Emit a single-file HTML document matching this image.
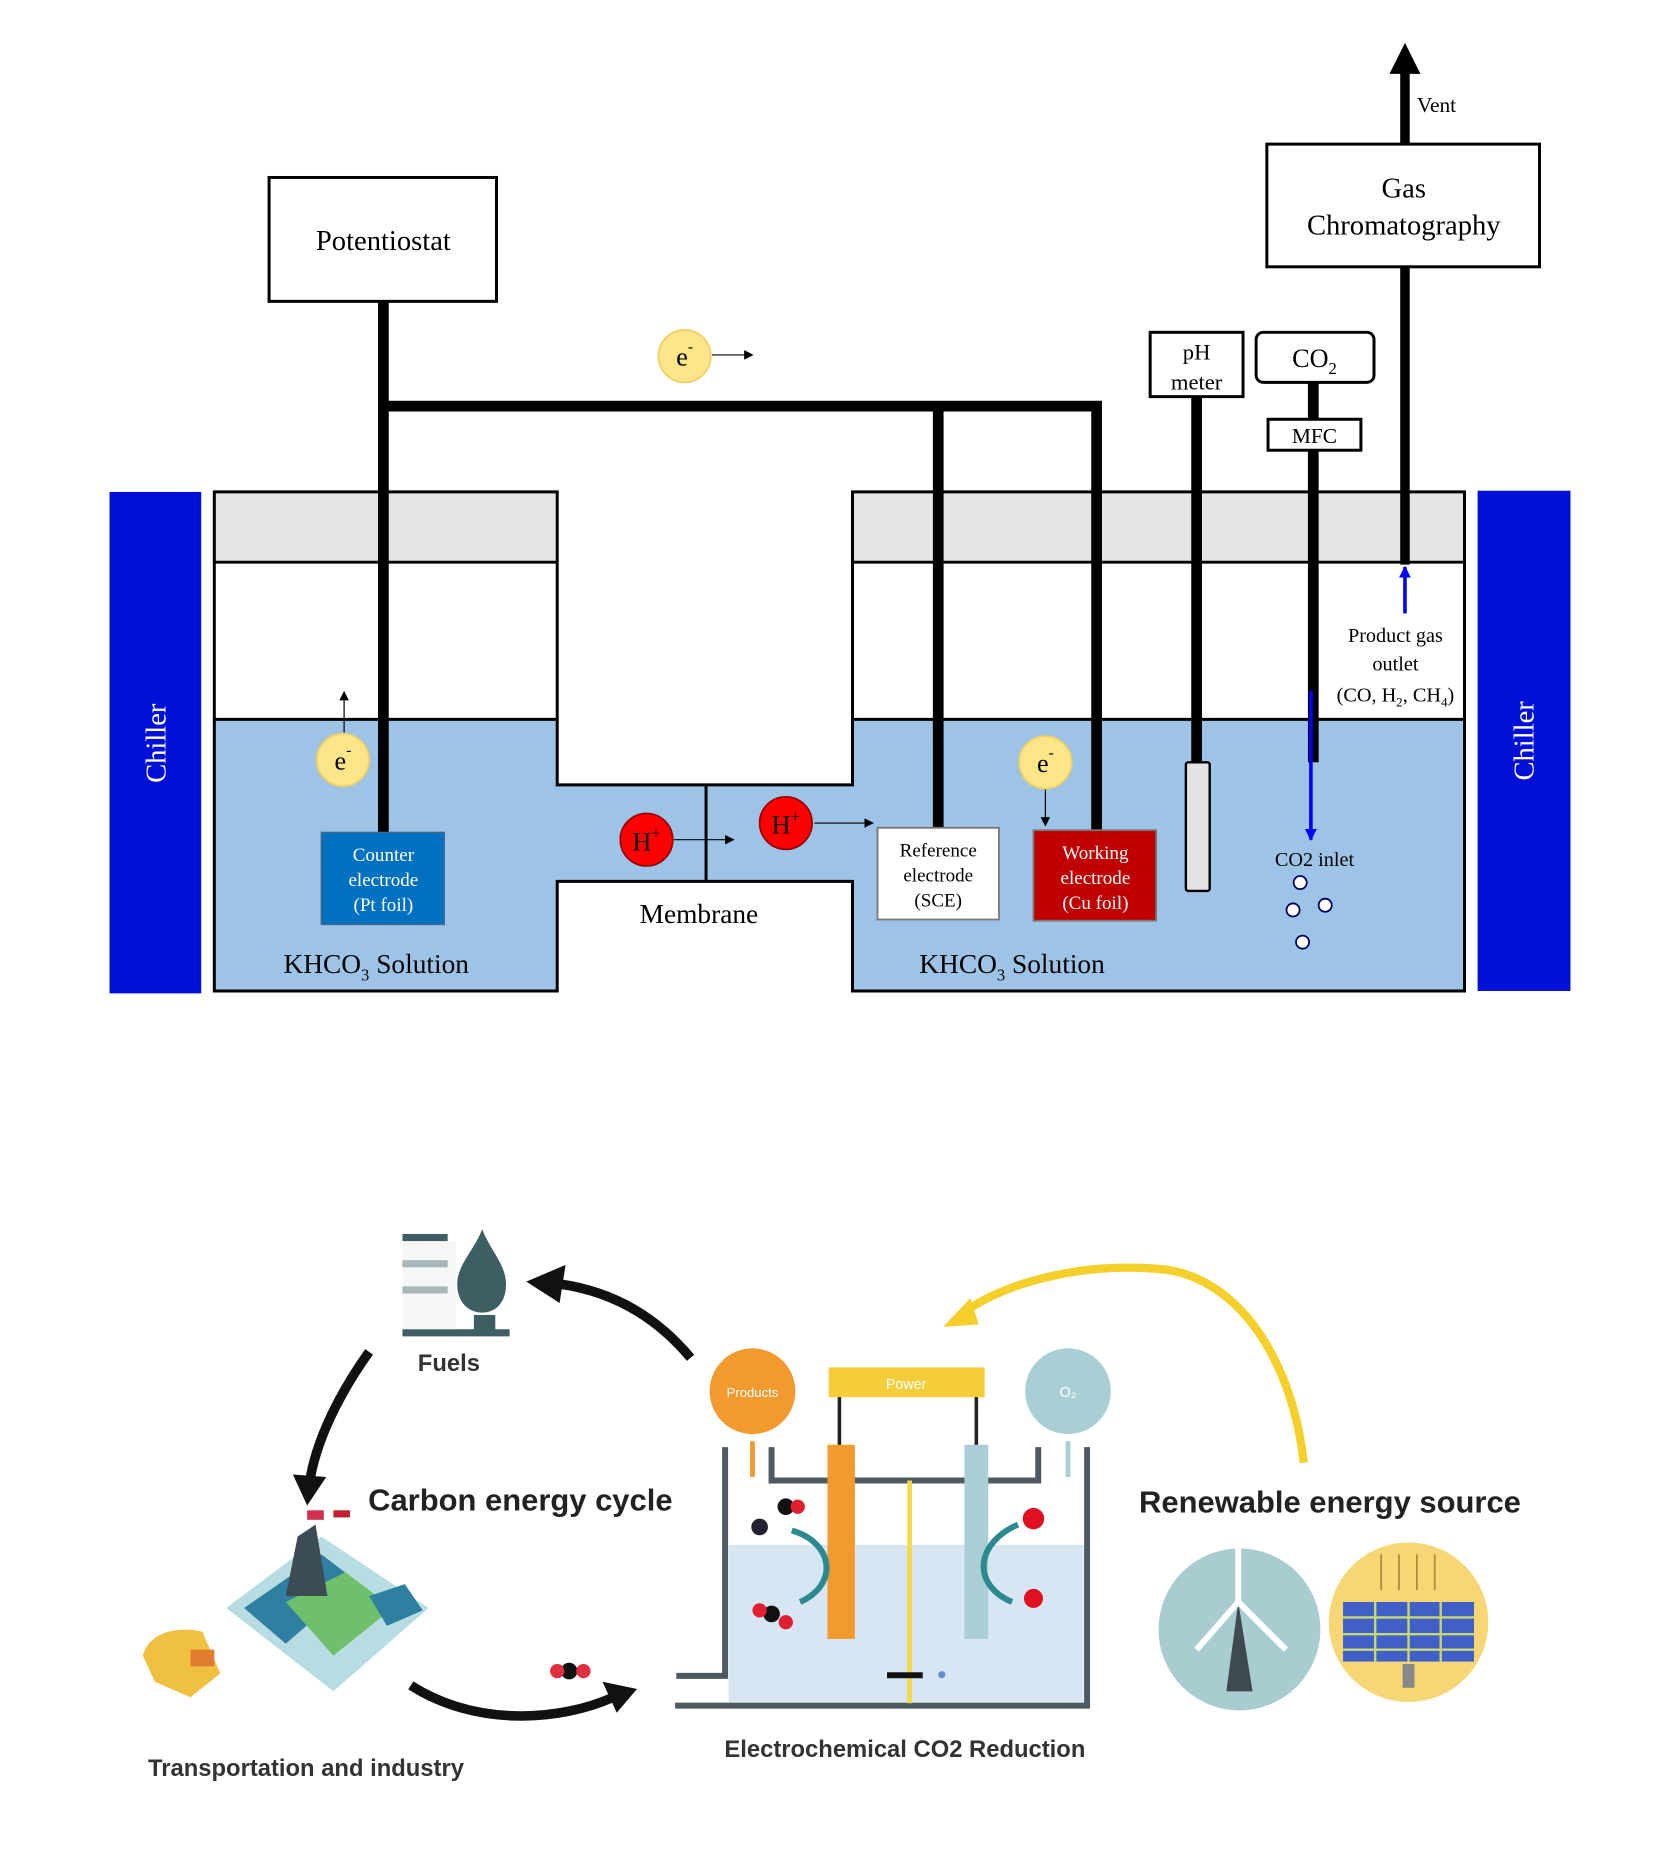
<!DOCTYPE html>
<html><head><meta charset="utf-8"><style>
html,body{margin:0;padding:0;background:#fff;}
svg{display:block;}
text{font-family:"Liberation Serif",serif;}
.s{font-family:"Liberation Sans",sans-serif;}
</style></head><body>
<svg width="1655" height="1870" viewBox="0 0 1390 1570" preserveAspectRatio="none" xmlns="http://www.w3.org/2000/svg">
<defs>
<marker id="ab" markerWidth="8" markerHeight="8" refX="7" refY="4" orient="auto" markerUnits="userSpaceOnUse"><path d="M0,0L8,4L0,8z" fill="#000"/></marker>
<marker id="abl" markerWidth="10" markerHeight="10" refX="9" refY="5" orient="auto" markerUnits="userSpaceOnUse"><path d="M0,0L10,5L0,10z" fill="#0000ff"/></marker>
</defs>
<rect width="1390" height="1570" fill="#fff"/>
<!-- chillers -->
<rect x="92" y="413" width="77" height="421" fill="#0010d8"/>
<rect x="1241" y="412" width="78" height="420" fill="#0010d8"/>
<text x="131" y="624" fill="#fff" font-size="24" text-anchor="middle" transform="rotate(-90 131 624)" dy="8">Chiller</text>
<text x="1280" y="622" fill="#fff" font-size="24" text-anchor="middle" transform="rotate(-90 1280 622)" dy="8">Chiller</text>
<!-- cells -->
<rect x="180" y="413" width="288" height="59" fill="#e6e5e6"/>
<rect x="716" y="413" width="514" height="59" fill="#e6e5e6"/>
<rect x="180" y="604" width="288" height="228" fill="#9dc3e6"/>
<rect x="716" y="604" width="514" height="228" fill="#9dc3e6"/>
<rect x="466" y="659" width="252" height="81" fill="#9dc3e6"/>
<g fill="none" stroke="#000" stroke-width="2.5">
<path d="M180,413H468V659H716V413H1230V832H716V740H468V832H180Z"/>
<line x1="180" y1="472" x2="468" y2="472"/><line x1="716" y1="472" x2="1230" y2="472"/>
<line x1="180" y1="604" x2="468" y2="604"/><line x1="716" y1="604" x2="1230" y2="604"/>
<line x1="593" y1="659" x2="593" y2="740"/>
</g>
<!-- top boxes -->
<rect x="226" y="149" width="191" height="104" fill="#fff" stroke="#000" stroke-width="2.5"/>
<text x="322" y="210" font-size="24" text-anchor="middle">Potentiostat</text>
<line x1="1180" y1="121" x2="1180" y2="58" stroke="#000" stroke-width="8"/>
<path d="M1167,62L1180,36L1193,62Z" fill="#000"/>
<text x="1190" y="94" font-size="18">Vent</text>
<line x1="1180" y1="224" x2="1180" y2="474" stroke="#000" stroke-width="8"/>
<rect x="1064" y="121" width="229" height="103" fill="#fff" stroke="#000" stroke-width="2.5"/>
<text x="1179" y="166" font-size="24" text-anchor="middle">Gas</text>
<text x="1179" y="197" font-size="24" text-anchor="middle">Chromatography</text>
<line x1="1180" y1="515" x2="1180" y2="476" stroke="#0000ff" stroke-width="3" marker-end="url(#abl)"/>
<!-- wires -->
<g stroke="#000" stroke-width="9" fill="none">
<line x1="322" y1="253" x2="322" y2="699"/>
<path d="M322,341H921V697"/>
<line x1="788" y1="341" x2="788" y2="695"/>
<line x1="1005" y1="333" x2="1005" y2="640"/>
<line x1="1103" y1="321" x2="1103" y2="352"/>
<line x1="1103" y1="378" x2="1103" y2="640"/>
</g>
<line x1="1101" y1="580" x2="1101" y2="705" stroke="#0000ff" stroke-width="3" marker-end="url(#abl)"/>
<rect x="966" y="279" width="78" height="54" fill="#fff" stroke="#000" stroke-width="2.5"/>
<text x="1005" y="302" font-size="19" text-anchor="middle">pH</text>
<text x="1005" y="327" font-size="19" text-anchor="middle">meter</text>
<rect x="1055" y="279" width="99" height="42" rx="6" fill="#fff" stroke="#000" stroke-width="2.5"/>
<text x="1104" y="308" font-size="22" text-anchor="middle">CO<tspan font-size="14" dy="6">2</tspan></text>
<rect x="1065" y="352" width="78" height="26" fill="#fff" stroke="#000" stroke-width="2.5"/>
<text x="1104" y="372" font-size="18" text-anchor="middle">MFC</text>
<rect x="996" y="640" width="20" height="108" rx="2" fill="#e3e3e3" stroke="#000" stroke-width="2"/>
<!-- electrodes -->
<rect x="270" y="699" width="103" height="77" fill="#0070c0" stroke="#3b6a96" stroke-width="1.5"/>
<text x="322" y="723" font-size="16" fill="#fff" text-anchor="middle">Counter</text>
<text x="322" y="744" font-size="16" fill="#fff" text-anchor="middle">electrode</text>
<text x="322" y="765" font-size="16" fill="#fff" text-anchor="middle">(Pt foil)</text>
<rect x="737" y="695" width="102" height="77" fill="#fff" stroke="#777" stroke-width="1.5"/>
<text x="788" y="719" font-size="16" text-anchor="middle">Reference</text>
<text x="788" y="740" font-size="16" text-anchor="middle">electrode</text>
<text x="788" y="761" font-size="16" text-anchor="middle">(SCE)</text>
<rect x="868" y="697" width="103" height="76" fill="#c00000" stroke="#777" stroke-width="1.5"/>
<text x="920" y="721" font-size="16" fill="#fff" text-anchor="middle">Working</text>
<text x="920" y="742" font-size="16" fill="#fff" text-anchor="middle">electrode</text>
<text x="920" y="763" font-size="16" fill="#fff" text-anchor="middle">(Cu foil)</text>
<!-- particles -->
<g stroke="#f0d060" stroke-width="1.5" fill="#ffe58a">
<circle cx="575" cy="299" r="22"/><circle cx="288" cy="638" r="22"/><circle cx="878" cy="640" r="22"/>
</g>
<text x="575" y="307" font-size="22" text-anchor="middle">e<tspan font-size="13" dy="-12">-</tspan></text>
<text x="288" y="646" font-size="22" text-anchor="middle">e<tspan font-size="13" dy="-12">-</tspan></text>
<text x="878" y="648" font-size="22" text-anchor="middle">e<tspan font-size="13" dy="-12">-</tspan></text>
<g stroke="#000" stroke-width="1" marker-end="url(#ab)">
<line x1="598" y1="298" x2="632" y2="298"/>
<line x1="289" y1="615" x2="289" y2="581"/>
<line x1="878" y1="663" x2="878" y2="693"/>
<line x1="566" y1="705" x2="616" y2="705"/>
<line x1="684" y1="691" x2="733" y2="691"/>
</g>
<circle cx="543" cy="705" r="22" fill="#f00" stroke="#900" stroke-width="1.5"/>
<circle cx="660" cy="691" r="22" fill="#f00" stroke="#900" stroke-width="1.5"/>
<text x="543" y="714" font-size="22" text-anchor="middle">H<tspan font-size="14" dy="-10">+</tspan></text>
<text x="660" y="700" font-size="22" text-anchor="middle">H<tspan font-size="14" dy="-10">+</tspan></text>
<text x="316" y="817" font-size="23" text-anchor="middle">KHCO<tspan font-size="14" dy="6">3</tspan><tspan dy="-6"> Solution</tspan></text>
<text x="850" y="817" font-size="23" text-anchor="middle">KHCO<tspan font-size="14" dy="6">3</tspan><tspan dy="-6"> Solution</tspan></text>
<text x="587" y="775" font-size="23" text-anchor="middle">Membrane</text>
<text x="1104" y="727" font-size="17" text-anchor="middle">CO2 inlet</text>
<g fill="#fff" stroke="#000060" stroke-width="1.5">
<circle cx="1092" cy="741" r="5.5"/><circle cx="1086" cy="764" r="5.5"/><circle cx="1113" cy="760" r="5.5"/><circle cx="1094" cy="791" r="5.5"/>
</g>
<text x="1172" y="539" font-size="17" text-anchor="middle">Product gas</text>
<text x="1172" y="563" font-size="17" text-anchor="middle">outlet</text>
<text x="1172" y="589" font-size="17" text-anchor="middle">(CO, H<tspan font-size="11" dy="4">2</tspan><tspan dy="-4">, CH</tspan><tspan font-size="11" dy="4">4</tspan><tspan dy="-4">)</tspan></text>

<!-- ===== lower illustration ===== -->
<g fill="#3d5f63">
<rect x="338" y="1036" width="38" height="6"/><rect x="338" y="1058" width="38" height="6"/><rect x="338" y="1080" width="38" height="6"/>
<path d="M405,1032C398,1050 384,1062 384,1078C384,1094 394,1102 405,1102C416,1102 425,1094 425,1078C425,1062 412,1050 405,1032Z"/>
<rect x="338" y="1116" width="90" height="6"/><rect x="398" y="1104" width="18" height="14"/>
</g>
<rect x="338" y="1042" width="45" height="74" fill="#eef1f2" opacity="0.6"/>
<text x="377" y="1151" class="s" font-size="20" font-weight="bold" fill="#333" text-anchor="middle">Fuels</text>
<g fill="none" stroke="#111" stroke-width="8">
<path d="M580,1140C555,1110 520,1085 470,1078"/>
<path d="M310,1135C285,1170 265,1210 260,1245"/>
<path d="M345,1415C400,1450 470,1445 515,1425"/>
</g>
<path d="M442,1076L475,1062L470,1094Z" fill="#111"/>
<path d="M246,1238L274,1240L258,1264Z" fill="#111"/>
<path d="M535,1418L506,1412L518,1438Z" fill="#111"/>
<path d="M1095,1228C1085,1140 1040,1075 980,1066C905,1058 835,1080 806,1105" fill="none" stroke="#f5cf2a" stroke-width="7"/>
<path d="M792,1114L815,1090L822,1112Z" fill="#f5cf2a"/>
<text x="437" y="1268" class="s" font-size="26" font-weight="bold" fill="#222" text-anchor="middle">Carbon energy cycle</text>
<text x="1117" y="1270" class="s" font-size="26" font-weight="bold" fill="#222" text-anchor="middle">Renewable energy source</text>
<path d="M190,1350L270,1290L360,1350L280,1420Z" fill="#b7dde2"/>
<path d="M205,1350L270,1305L300,1328L240,1380Z" fill="#2f7fa0"/>
<path d="M240,1345L290,1320L330,1350L280,1390Z" fill="#6fc06a"/>
<path d="M240,1340L250,1290L265,1280L275,1340Z" fill="#3b4c55"/>
<path d="M310,1340L340,1330L355,1352L325,1365Z" fill="#2f7fa0"/>
<path d="M120,1390C125,1370 150,1365 170,1370L185,1405L160,1425L130,1412Z" fill="#f0c040"/>
<rect x="160" y="1385" width="20" height="14" fill="#e07b30"/>
<rect x="258" y="1268" width="14" height="8" fill="#d03050"/><rect x="280" y="1268" width="14" height="6" fill="#c02030"/>
<text x="257" y="1491" class="s" font-size="20" font-weight="bold" fill="#333" text-anchor="middle">Transportation and industry</text>
<circle cx="478" cy="1403" r="7" fill="#111"/><circle cx="468" cy="1403" r="6" fill="#e03040"/><circle cx="490" cy="1403" r="6" fill="#e03040"/>
<rect x="612" y="1297" width="298" height="132" fill="#d6e7f3"/>
<g fill="none" stroke="#4d5b60" stroke-width="5">
<path d="M609,1215V1407H568"/>
<path d="M567,1432H913V1215"/>
<path d="M648,1215V1243H872V1215"/>
</g>
<line x1="764" y1="1243" x2="764" y2="1430" stroke="#f4d84a" stroke-width="4"/>
<line x1="705" y1="1172" x2="705" y2="1215" stroke="#222" stroke-width="3"/>
<line x1="820" y1="1172" x2="820" y2="1215" stroke="#222" stroke-width="3"/>
<rect x="695" y="1213" width="23" height="163" fill="#f39a2e"/>
<rect x="810" y="1213" width="20" height="163" fill="#a9cfd4"/>
<rect x="696" y="1148" width="131" height="25" fill="#f5cc3a"/>
<text x="761" y="1166" class="s" font-size="12" fill="#fff" text-anchor="middle">Power</text>
<circle cx="632" cy="1168" r="36" fill="#f39a2e"/>
<text x="632" y="1173" class="s" font-size="11" fill="#fff" text-anchor="middle">Products</text>
<circle cx="897" cy="1168" r="36" fill="#a9cfd4"/>
<text x="897" y="1173" class="s" font-size="12" fill="#fff" text-anchor="middle">O₂</text>
<line x1="632" y1="1210" x2="632" y2="1240" stroke="#f39a2e" stroke-width="4"/>
<line x1="897" y1="1210" x2="897" y2="1240" stroke="#a9cfd4" stroke-width="4"/>
<g fill="none" stroke="#2b8a8f" stroke-width="5">
<path d="M665,1285C700,1295 705,1330 672,1345"/>
<path d="M855,1280C820,1295 815,1330 850,1345"/>
</g>
<circle cx="660" cy="1265" r="7" fill="#111"/><circle cx="670" cy="1265" r="6" fill="#e02030"/>
<circle cx="638" cy="1282" r="7" fill="#223"/>
<circle cx="648" cy="1355" r="7" fill="#111"/><circle cx="638" cy="1352" r="6" fill="#e02030"/><circle cx="660" cy="1362" r="6" fill="#e02030"/>
<circle cx="868" cy="1275" r="9" fill="#e01020"/><circle cx="868" cy="1342" r="8" fill="#e01020"/>
<rect x="745" y="1404" width="30" height="5" fill="#111"/><circle cx="791" cy="1406" r="3" fill="#6a8ad8"/>
<text x="760" y="1475" class="s" font-size="20" font-weight="bold" fill="#333" text-anchor="middle">Electrochemical CO2 Reduction</text>
<circle cx="1041" cy="1368" r="68" fill="#a8ccd0"/>
<path d="M1030,1420L1040,1345L1052,1420Z" fill="#3e4a50"/>
<path d="M1040,1345L1040,1300M1040,1345L1005,1385M1040,1345L1080,1385" stroke="#fff" stroke-width="5"/>
<circle cx="1183" cy="1362" r="67" fill="#f6d675"/>
<g fill="#4060c8"><rect x="1128" y="1345" width="110" height="50"/></g>
<g stroke="#c8d870" stroke-width="2"><line x1="1128" y1="1358" x2="1238" y2="1358"/><line x1="1128" y1="1372" x2="1238" y2="1372"/><line x1="1128" y1="1385" x2="1238" y2="1385"/><line x1="1155" y1="1345" x2="1155" y2="1395"/><line x1="1183" y1="1345" x2="1183" y2="1395"/><line x1="1210" y1="1345" x2="1210" y2="1395"/></g>
<g stroke="#b08a40" stroke-width="1.5"><line x1="1160" y1="1305" x2="1160" y2="1335"/><line x1="1175" y1="1305" x2="1175" y2="1335"/><line x1="1190" y1="1305" x2="1190" y2="1335"/><line x1="1205" y1="1305" x2="1205" y2="1335"/></g>
<rect x="1178" y="1397" width="10" height="20" fill="#888"/>
</svg>
</body></html>
